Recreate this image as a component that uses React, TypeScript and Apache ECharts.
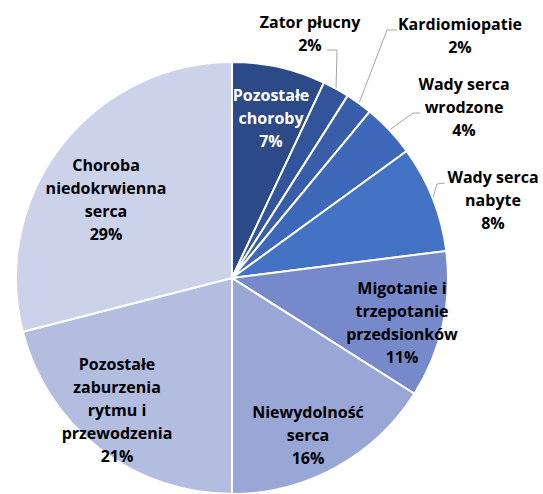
import React, { useEffect, useRef } from "react";
import * as echarts from "echarts";

// Data
const categories = [
  "Pozostałe\nchoroby",
  "Zator płucny",
  "Kardiomiopatie",
  "Wady serca\nwrodzone",
  "Wady serca\nnabyte",
  "Migotanie i\ntrzepotanie\nprzedsionków",
  "Niewydolność\nserca",
  "Pozostałe\nzaburzenia\nrytmu i\nprzewodzenia",
  "Choroba\nniedokrwienna\nserca",
];
const shares = [7, 2, 2, 4, 8, 11, 16, 21, 29];

// Styles
const colors = [
  "#2D4A88",
  "#32549B",
  "#385EAA",
  "#3E68B9",
  "#4472C4",
  "#7689CA",
  "#98A7D6",
  "#B3BDE0",
  "#CCD2EA",
];
const inside = [true, false, false, false, false, true, true, true, true];
const textColors = ["#FFFFFF", "#000", "#000", "#000", "#000", "#000", "#000", "#000", "#000"];
// label block centres (px) and leader bend/end points
const labelPos: [number, number][] = [
  [271, 118],
  [310, 33],
  [460, 35],
  [464, 107],
  [493, 200],
  [402, 322],
  [308, 435],
  [117, 410],
  [106, 199],
];
const leader: ([number, number][] | null)[] = [
  null,
  [[337, 50], [327, 50]],
  [[387, 30], [397, 30]],
  [[413, 113], [420, 113]],
  [[437, 184], [445, 183]],
  null,
  null,
  null,
  null,
];

export default function App() {
  const ref = useRef<HTMLDivElement>(null);
  useEffect(() => {
    if (!ref.current) return;
    const chart = echarts.init(ref.current, null, { renderer: "svg" });
    const data = categories.map((name, i) => ({
      name,
      value: shares[i],
      itemStyle: { color: colors[i] },
      label: {
        position: inside[i] ? "inside" : "outside",
        color: textColors[i],
      },
      labelLine: { show: !inside[i] },
    }));
    chart.setOption({
      animation: false,
      backgroundColor: "#FFFFFF",
      series: [
        {
          type: "pie",
          center: [232, 278],
          radius: 216,
          startAngle: 90,
          clockwise: true,
          avoidLabelOverlap: false,
          itemStyle: { borderColor: "#FFFFFF", borderWidth: 2 },
          label: {
            show: true,
            formatter: (p: any) => `${p.name}\n${p.value}%`,
            fontFamily: "'Open Sans', Lato, sans-serif",
            fontWeight: "bold",
            fontSize: 16,
            lineHeight: 23,
            align: "center",
          },
          labelLine: {
            show: true,
            lineStyle: { color: "#A6A6A6", width: 1 },
          },
          labelLayout: (params: any) => {
            const i = params.dataIndex;
            const res: any = {
              x: labelPos[i][0],
              y: labelPos[i][1],
              align: "center",
              verticalAlign: "middle",
            };
            const lp = leader[i];
            if (lp && params.labelLinePoints) {
              res.labelLinePoints = [params.labelLinePoints[0], lp[0], lp[1]];
            }
            return res;
          },
          data,
        },
      ],
    });
    return () => chart.dispose();
  }, []);
  return (
    <div
      ref={ref}
      style={{ position: "fixed", left: 0, top: 0, width: 543, height: 494 }}
    />
  );
}
